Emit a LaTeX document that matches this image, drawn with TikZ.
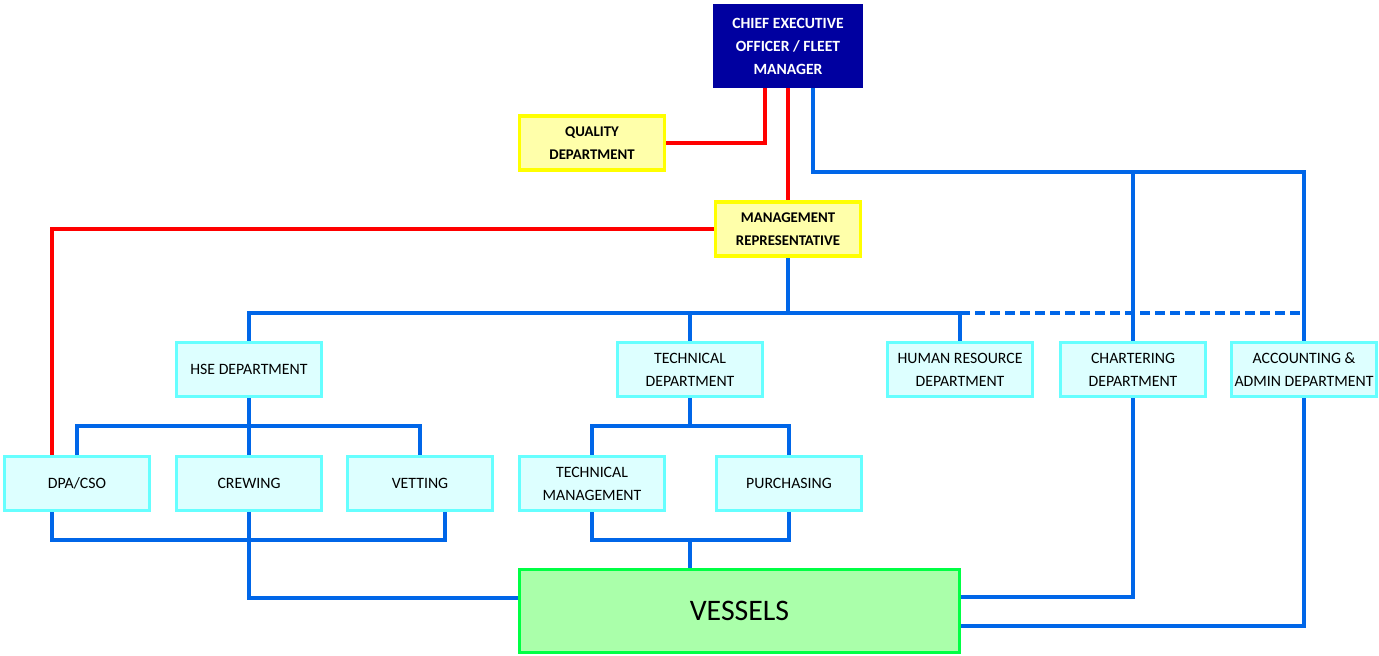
\documentclass[tikz,border=0pt]{standalone}
\usepackage{fontspec}
\setmainfont{Carlito}
\usetikzlibrary{backgrounds}
\definecolor{lineblue}{HTML}{0066E8}
\definecolor{ceoblue}{HTML}{0000A0}
\definecolor{ybord}{HTML}{FFFF00}
\definecolor{yfill}{HTML}{FFFFAA}
\definecolor{cbord}{HTML}{66FFFF}
\definecolor{cfill}{HTML}{DDFFFF}
\definecolor{gbord}{HTML}{00FF44}
\definecolor{gfill}{HTML}{AAFFAA}
\tikzset{
  box/.style={rectangle, line width=3.4pt, align=center, inner sep=0pt,
    minimum width=145pt, minimum height=54pt, font=\fontsize{15.8}{23}\selectfont, text=black},
  ceobox/.style={box, draw=ceoblue, fill=ceoblue, text=white, font=\fontsize{15.6}{23}\selectfont\bfseries, minimum width=146pt, minimum height=81pt},
  ybox/.style={box, draw=ybord, fill=yfill, font=\fontsize{14.8}{23}\selectfont\bfseries},
  cbox/.style={box, draw=cbord, fill=cfill},
  gbox/.style={box, draw=gbord, fill=gfill, minimum width=440pt, minimum height=83pt, font=\fontsize{29.8}{32}\selectfont},
  bl/.style={draw=lineblue, line width=3.2pt},
  rl/.style={draw=red, line width=3.2pt},
}
\begin{document}
\begin{tikzpicture}[x=1pt,y=-1pt]
\useasboundingbox (0,0) rectangle (1379,656);
% nodes
\node[ceobox] (ceo) at (788,46) {CHIEF EXECUTIVE\\OFFICER / FLEET\\MANAGER};
\node[ybox] (qual) at (592,143) {QUALITY\\DEPARTMENT};
\node[ybox] (mr) at (788,229) {MANAGEMENT\\REPRESENTATIVE};
\node[cbox] (hse) at (249,369.5) {HSE DEPARTMENT};
\node[cbox] (tech) at (690,369.5) {TECHNICAL\\DEPARTMENT};
\node[cbox] (hr) at (960,369.5) {HUMAN RESOURCE\\DEPARTMENT};
\node[cbox] (chart) at (1133,369.5) {CHARTERING\\DEPARTMENT};
\node[cbox] (acc) at (1304,369.5) {ACCOUNTING \&\\ADMIN DEPARTMENT};
\node[cbox] (dpa) at (77,483.5) {DPA/CSO};
\node[cbox] (crew) at (249,483.5) {CREWING};
\node[cbox] (vet) at (420,483.5) {VETTING};
\node[cbox] (tm) at (592,483.5) {TECHNICAL\\MANAGEMENT};
\node[cbox] (pur) at (789,483.5) {PURCHASING};
\node[gbox] (ves) at (739.5,611) {VESSELS};
% helper coordinates
\coordinate (ytop) at (0,172);
\coordinate (ybus) at (0,313);
\coordinate (yhse) at (0,426);
\coordinate (ylow) at (0,540);
\coordinate (ycw) at (0,598);
\coordinate (ych) at (0,597);
\coordinate (yac) at (0,626);
\coordinate (ceoq) at ([xshift=-23pt]ceo.south);
\coordinate (ceob) at ([xshift=25pt]ceo.south);
\coordinate (dpar) at ([xshift=-25pt]dpa.north);
\coordinate (dpab) at ([xshift=-25pt]dpa.south);
\coordinate (vetb) at ([xshift=25pt]vet.south);
\begin{scope}[on background layer]
% red
\draw[rl] (ceoq) |- (qual.east);
\draw[rl] (ceo.south) -- (mr.north);
\draw[rl] (mr.west) -| (dpar);
% blue from CEO
\draw[bl] (ceob) |- (acc.north |- ytop) -- (acc.north);
\draw[bl] (chart.north |- ytop) -- (chart.north);
% bus under MR
\draw[bl] (mr.south) -- (mr.south |- ybus);
\draw[bl] (hse.north) -- (hse.north |- ybus) -- (hr.north |- ybus) -- (hr.north);
\draw[bl] (tech.north) -- (tech.north |- ybus);
\draw[bl, dash pattern=on 10pt off 5pt] (hr.north |- ybus) -- (acc.north |- ybus);
% HSE children
\draw[bl] (hse.south) -- (crew.north);
\draw[bl] (dpa.north) |- (vet.north |- yhse) -- (vet.north);
\draw[bl] (dpab) |- (vetb |- ylow) -- (vetb);
\draw[bl] (crew.south) |- (ves.west |- ycw);
% technical children
\draw[bl] (tech.south) -- (tech.south |- yhse);
\draw[bl] (tm.north) |- (pur.north |- yhse) -- (pur.north);
\draw[bl] (tm.south) |- (pur.south |- ylow) -- (pur.south);
\draw[bl] (tech.south |- ylow) -- (tech.south |- ves.north);
% right side to vessels
\draw[bl] (chart.south) |- (ves.east |- ych);
\draw[bl] (acc.south) |- (ves.east |- yac);
\end{scope}
\end{tikzpicture}
\end{document}
